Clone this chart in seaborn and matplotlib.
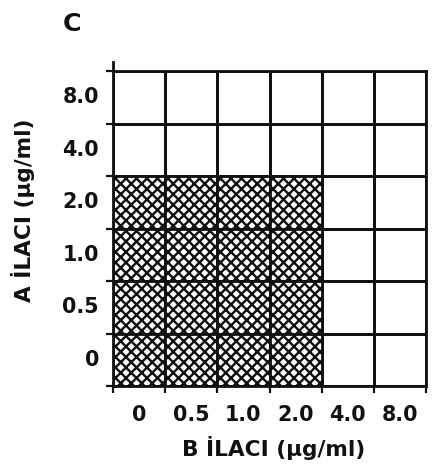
import matplotlib
matplotlib.use("Agg")
import matplotlib.pyplot as plt
from matplotlib.patches import Rectangle
import numpy as np
import pandas as pd
import seaborn as sns

# Checkerboard layout: drug B across columns, drug A down the rows (top to bottom)
drug_b = ["0", "0.5", "1.0", "2.0", "4.0", "8.0"]
drug_a = ["8.0", "4.0", "2.0", "1.0", "0.5", "0"]

# 1 = growth (hatched well), 0 = no growth
growth_8 = [0, 0, 0, 0, 0, 0]
growth_4 = [0, 0, 0, 0, 0, 0]
growth_2 = [1, 1, 1, 1, 0, 0]
growth_1 = [1, 1, 1, 1, 0, 0]
growth_05 = [1, 1, 1, 1, 0, 0]
growth_0 = [1, 1, 1, 1, 0, 0]

grid = pd.DataFrame(
    [growth_8, growth_4, growth_2, growth_1, growth_05, growth_0],
    index=drug_a, columns=drug_b,
)

DPI = 126
W, H = 438, 467
px = 72.0 / DPI  # points per pixel

sns.set_theme(style="white")
plt.rcParams["font.family"] = ["DejaVu Sans"]
plt.rcParams["hatch.linewidth"] = 2.4 * px

fig = plt.figure(figsize=(W / DPI, H / DPI), dpi=DPI)
ax = fig.add_axes([113 / W, 1 - 386 / H, (426 - 113) / W, (386 - 71) / H])

line_w = 2.8 * px
ink = "#111111"

sns.heatmap(
    grid, ax=ax, cmap=["white", "white"], cbar=False,
    linewidths=line_w, linecolor=ink, square=False,
)

# hatched wells where growth was observed
for r, row_name in enumerate(grid.index):
    for c, col_name in enumerate(grid.columns):
        if grid.loc[row_name, col_name] == 1:
            ax.add_patch(Rectangle(
                (c, r), 1, 1, facecolor="white", edgecolor=ink,
                linewidth=line_w, hatch="xxxx", zorder=2,
            ))

for side, sp in ax.spines.items():
    sp.set_visible(True)
    sp.set_color(ink)
    sp.set_linewidth(line_w)
    sp.set_zorder(3)
ax.spines["left"].set_bounds(-0.17, len(drug_a))

# labels sit at cell centres, tick marks at the cell borders
ax.set_xticks(np.arange(len(drug_b)) + 0.5)
ax.set_xticklabels(drug_b, rotation=0)
ax.set_yticks(np.arange(len(drug_a)) + 0.5)
ax.set_yticklabels(drug_a, rotation=0)
ax.set_xticks(np.arange(len(drug_b) + 1), minor=True)
ax.set_yticks(np.arange(len(drug_a) + 1), minor=True)

tick_font = 11.8
ax.tick_params(axis="both", which="major", length=0, labelsize=tick_font,
               labelcolor=ink)
ax.tick_params(axis="x", which="major", pad=19 * px)
ax.tick_params(axis="y", which="major", pad=14 * px)
ax.tick_params(axis="both", which="minor", length=7 * px, width=2.2 * px,
               color=ink, direction="out", bottom=True, left=True)
for lab in ax.get_xticklabels() + ax.get_yticklabels():
    lab.set_fontweight("bold")

label_font = 12.4
ax.set_xlabel("B İLACI (µg/ml)", fontsize=label_font, fontweight="bold",
              color=ink, va="center")
ax.xaxis.set_label_coords((274 - 113) / 313, (386 - 448) / 315)
ax.set_ylabel("A İLACI (µg/ml)", fontsize=label_font, fontweight="bold",
              color=ink, ha="center", va="center", rotation_mode="default")
ax.yaxis.set_label_coords((23 - 113) / 313, (386 - 210) / 315)

ax.text((63 - 113) / 313, (386 - 31) / 315, "C", transform=ax.transAxes,
        fontsize=14.5, fontweight="bold", color=ink, ha="left",
        va="baseline")

fig.savefig("out.png", dpi=DPI)
